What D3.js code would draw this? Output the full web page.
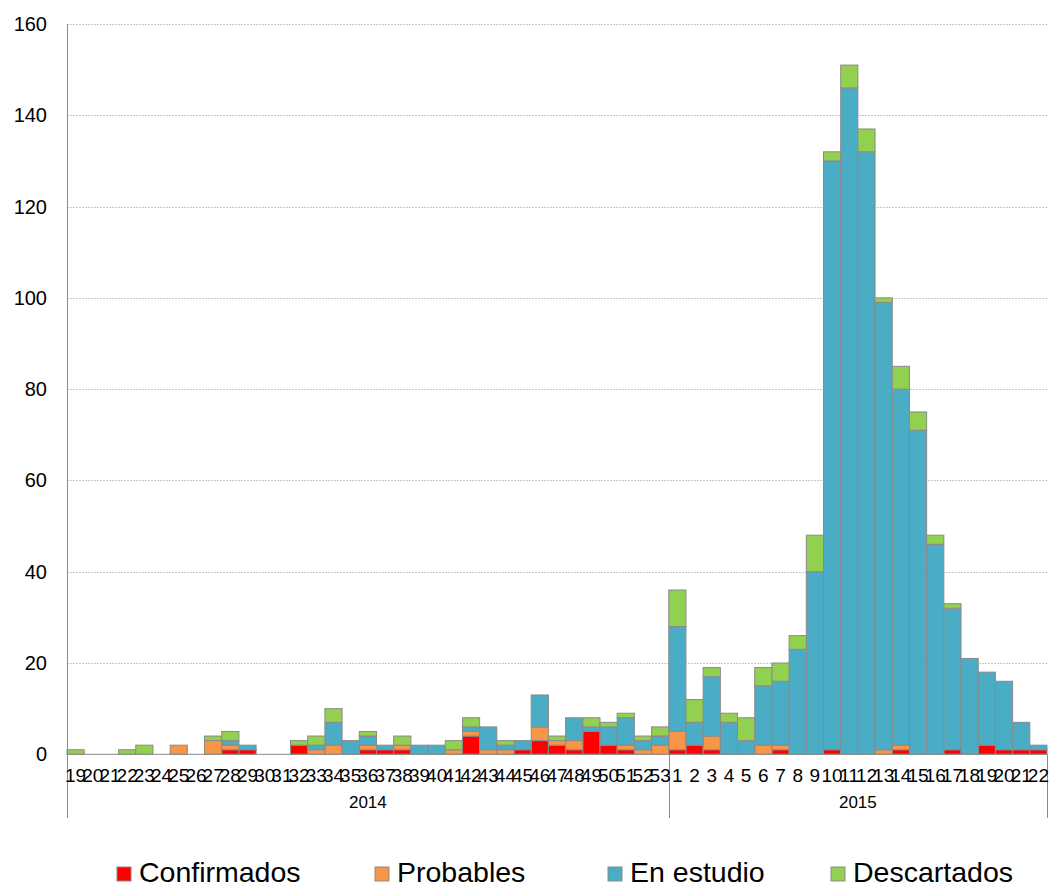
<!DOCTYPE html>
<html lang="es">
<head>
<meta charset="utf-8">
<title>Casos por semana</title>
<script src="https://cdn.jsdelivr.net/npm/d3@7/dist/d3.min.js"></script>
<style>
  body { margin: 0; background: #fff; }
  text { font-family: "Liberation Sans", Arial, sans-serif; fill: #000; }
</style>
</head>
<body></body>
<script type="text/javascript">

/*********************************************************************/
// Data

var weeks2014 = ["19","20","21","22","23","24","25","26","27","28","29","30","31","32","33","34","35","36",
                 "37","38","39","40","41","42","43","44","45","46","47","48","49","50","51","52","53"];
var weeks2015 = ["1","2","3","4","5","6","7","8","9","10","11","12","13","14","15","16","17","18","19","20","21","22"];
var years = ["2014", "2015"];

var confirmados = [0,0,0,0,0,0,0,0,0,1,1,0,0,2,0,0,0,1,1,1,0,0,0,4,0,0,1,3,2,1,5,2,1,0,0,
                   1,2,1,0,0,0,1,0,0,1,0,0,0,1,0,0,1,0,2,1,1,1];
var probables   = [0,0,0,0,0,0,2,0,3,1,0,0,0,0,1,2,0,1,0,1,0,0,1,1,1,1,0,3,1,2,0,0,1,1,2,
                   4,0,3,0,0,2,1,0,0,0,0,0,1,1,0,0,0,0,0,0,0,0];
var enEstudio   = [0,0,0,0,0,0,0,0,0,1,1,0,0,0,1,5,3,2,1,0,2,2,0,1,5,1,2,7,0,5,1,4,6,2,2,
                   23,5,13,7,3,13,14,23,40,129,146,132,98,78,71,46,31,21,16,15,6,1];
var descartados = [1,0,0,1,2,0,0,0,1,2,0,0,0,1,2,3,0,1,0,2,0,0,2,2,0,1,0,0,1,0,2,1,1,1,2,
                   8,5,2,2,5,4,4,3,8,2,5,5,1,5,4,2,1,0,0,0,0,0];

var seriesNames = ["Confirmados", "Probables", "En estudio", "Descartados"];
var seriesColors = ["#ff0000", "#f79646", "#4bacc6", "#92d050"];
var yTicks = [0, 20, 40, 60, 80, 100, 120, 140, 160];

/*********************************************************************/
// Table for the stack

var keys = ["c", "p", "e", "d"];
var allWeeks = weeks2014.concat(weeks2015);
var table = allWeeks.map(function(w, i){
	return {id: i, week: w, year: i < weeks2014.length ? years[0] : years[1],
	        c: confirmados[i], p: probables[i], e: enEstudio[i], d: descartados[i]};
});
var stacked = d3.stack().keys(keys)(table);

/*********************************************************************/
// Canvas

var width = 1049, height = 887;
var plotLeft = 67, plotRight = 1047, plotTop = 24, plotBottom = 754.3;

var svg = d3.select("body")
	.append("svg")
	.attr("width", width)
	.attr("height", height);

var x = d3.scaleBand()
	.domain(table.map(function(d){ return d.id; }))
	.range([plotLeft, plotRight])
	.padding(0);

var y = d3.scaleLinear()
	.domain([0, 160])
	.range([plotBottom, plotTop]);

/*********************************************************************/
// Grid + y labels

svg.append("g")
	.selectAll("line")
	.data(yTicks.filter(function(t){ return t > 0; }))
	.enter()
	.append("line")
	.attr("x1", plotLeft)
	.attr("x2", plotRight)
	.attr("y1", function(d){ return Math.round(y(d)) + 0.5; })
	.attr("y2", function(d){ return Math.round(y(d)) + 0.5; })
	.style("stroke", "#c8c8c8")
	.style("stroke-width", 1)
	.style("stroke-dasharray", "2,1");

svg.append("g")
	.selectAll("text")
	.data(yTicks)
	.enter()
	.append("text")
	.attr("x", 47)
	.attr("y", function(d){ return y(d) + 7; })
	.attr("text-anchor", "end")
	.style("font-size", "20px")
	.text(function(d){ return d; });

/*********************************************************************/
// Bars

svg.append("g")
	.selectAll("g")
	.data(stacked)
	.enter()
	.append("g")
	.attr("fill", function(d, i){ return seriesColors[i]; })
	.selectAll("rect")
	.data(function(d){ return d.filter(function(v){ return v[1] > v[0]; }); })
	.enter()
	.append("rect")
	.attr("x", function(d){ return x(d.data.id); })
	.attr("width", x.bandwidth())
	.attr("y", function(d){ return y(d[1]); })
	.attr("height", function(d){ return y(d[0]) - y(d[1]); })
	.style("stroke", "#8a8a8a")
	.style("stroke-width", 1);

/*********************************************************************/
// Axes

svg.append("line")
	.attr("x1", plotLeft).attr("x2", plotRight)
	.attr("y1", plotBottom).attr("y2", plotBottom)
	.style("stroke", "#8a8a8a");

var sepX = [plotLeft, x(weeks2014.length), plotRight];
svg.append("g")
	.selectAll("line")
	.data(sepX)
	.enter()
	.append("line")
	.attr("x1", function(d){ return Math.round(d) + 0.5; })
	.attr("x2", function(d){ return Math.round(d) + 0.5; })
	.attr("y1", function(d, i){ return i == 0 ? plotTop : plotBottom; })
	.attr("y2", 818)
	.style("stroke", "#8a8a8a");

// week labels overlap on purpose, as in the original
svg.append("g")
	.selectAll("text")
	.data(table)
	.enter()
	.append("text")
	.attr("x", function(d){ return x(d.id) + x.bandwidth()/2; })
	.attr("y", 782)
	.attr("text-anchor", "middle")
	.style("font-size", "19px")
	.text(function(d){ return d.week; });

svg.append("g")
	.selectAll("text")
	.data(years)
	.enter()
	.append("text")
	.attr("x", function(d, i){ return (sepX[i] + sepX[i+1]) / 2; })
	.attr("y", 808)
	.attr("text-anchor", "middle")
	.style("font-size", "17px")
	.text(function(d){ return d; });

/*********************************************************************/
// Legend

var legendX = [117, 375, 608, 831];
var legend = svg.append("g")
	.selectAll("g")
	.data(seriesNames)
	.enter()
	.append("g")
	.attr("transform", function(d, i){ return "translate(" + legendX[i] + ",867)"; });

legend.append("rect")
	.attr("width", 14)
	.attr("height", 14)
	.attr("fill", function(d, i){ return seriesColors[i]; })
	.style("stroke", "#8a8a8a")
	.style("stroke-width", 1);

legend.append("text")
	.attr("x", 22)
	.attr("y", 15)
	.style("font-size", "28.5px")
	.text(function(d){ return d; });

</script>
</html>
